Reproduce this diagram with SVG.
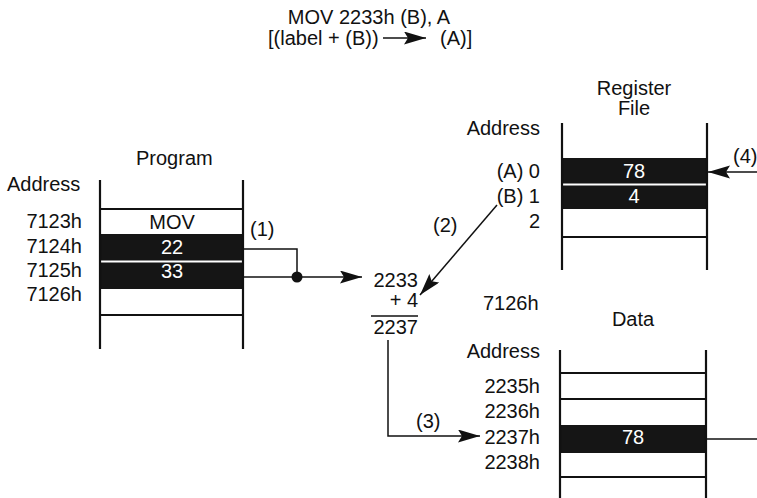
<svg xmlns="http://www.w3.org/2000/svg" width="757" height="498" viewBox="0 0 757 498">
<style>
text{font-family:"Liberation Sans",Arial,sans-serif;font-size:20px;fill:#111}
.r{text-anchor:end}
.m{text-anchor:middle}
.w{fill:#fff}
.v{stroke:#111;stroke-width:2.2;fill:none}
.h{stroke:#111;stroke-width:2;fill:none}
.blk{fill:#151515}
.c{stroke:#111;stroke-width:1.5;fill:none}
</style>
<defs>
<marker id="ah" markerUnits="userSpaceOnUse" markerWidth="24" markerHeight="14" refX="22" refY="6.5" orient="auto">
<path d="M0,0 L22,6.5 L0,13 L4,6.5 Z" fill="#111"/>
</marker>
</defs>
<rect width="757" height="498" fill="#fff"/>

<g id="title">
<text class="m" x="369" y="24">MOV 2233h (B), A</text>
<text x="268" y="45">[(label + (B))</text>
<text x="440" y="45">(A)]</text>
</g>

<g id="program">
<text x="136" y="165">Program</text>
<text x="7" y="191">Address</text>
<text class="r" x="82" y="228">7123h</text>
<text class="r" x="82" y="253">7124h</text>
<text class="r" x="82" y="277">7125h</text>
<text class="r" x="82" y="301">7126h</text>
<rect class="blk" x="100" y="234" width="143" height="55"/>
<line x1="100" y1="261.5" x2="243" y2="261.5" stroke="#fff" stroke-width="2"/>
<line class="h" x1="100" y1="209" x2="243" y2="209"/>
<line class="h" x1="100" y1="315" x2="243" y2="315"/>
<line class="v" x1="100" y1="180" x2="100" y2="349"/>
<line class="v" x1="243" y1="180" x2="243" y2="349"/>
<text class="m" x="172" y="229">MOV</text>
<text class="m w" x="172" y="254">22</text>
<text class="m w" x="172" y="278">33</text>
</g>

<g id="calc">
<text class="r" x="418" y="287">2233</text>
<text class="r" x="418" y="307">+ 4</text>
<line x1="371" y1="316" x2="418" y2="316" stroke="#111" stroke-width="1.5"/>
<text class="r" x="418" y="334">2237</text>
<text x="483" y="310">7126h</text>
</g>

<g id="register">
<text class="m" x="634" y="95">Register</text>
<text class="m" x="634" y="115">File</text>
<text class="r" x="540" y="135">Address</text>
<text class="r" x="540" y="178">(A) 0</text>
<text class="r" x="540" y="203">(B) 1</text>
<text class="r" x="540" y="228">2</text>
<rect class="blk" x="562" y="158" width="145" height="51"/>
<line x1="562" y1="184.5" x2="707" y2="184.5" stroke="#fff" stroke-width="2"/>
<line class="h" x1="562" y1="237" x2="707" y2="237"/>
<line class="v" x1="562" y1="123" x2="562" y2="270"/>
<line class="v" x1="707" y1="123" x2="707" y2="270"/>
<text class="m w" x="634" y="178">78</text>
<text class="m w" x="634" y="203">4</text>
</g>

<g id="data">
<text class="m" x="633" y="326">Data</text>
<text class="r" x="540" y="358">Address</text>
<text class="r" x="540" y="393">2235h</text>
<text class="r" x="540" y="418">2236h</text>
<text class="r" x="540" y="444">2237h</text>
<text class="r" x="540" y="469">2238h</text>
<rect class="blk" x="560" y="425" width="146" height="28"/>
<line class="h" x1="560" y1="373" x2="706" y2="373"/>
<line class="h" x1="560" y1="399" x2="706" y2="399"/>
<line class="h" x1="560" y1="477" x2="706" y2="477"/>
<line class="v" x1="560" y1="350" x2="560" y2="498"/>
<line class="v" x1="706" y1="350" x2="706" y2="498"/>
<text class="m w" x="633" y="444">78</text>
</g>

<g id="connectors">
<line class="c" x1="383" y1="38" x2="426" y2="38" marker-end="url(#ah)"/>
<polyline class="c" points="243,249 297,249 297,277"/>
<line class="c" x1="243" y1="277" x2="362" y2="277" marker-end="url(#ah)"/>
<circle cx="297" cy="277" r="5.5" fill="#111"/>
<text x="250" y="236">(1)</text>
<line class="c" x1="497" y1="205" x2="420" y2="295" marker-end="url(#ah)"/>
<text x="433" y="232">(2)</text>
<polyline class="c" points="388,340 388,436 480,436" marker-end="url(#ah)"/>
<text x="416" y="428">(3)</text>
<line class="c" x1="757" y1="172" x2="708" y2="172" marker-end="url(#ah)"/>
<text x="733" y="163">(4)</text>
<line class="c" x1="706" y1="439" x2="757" y2="439"/>
</g>
</svg>
